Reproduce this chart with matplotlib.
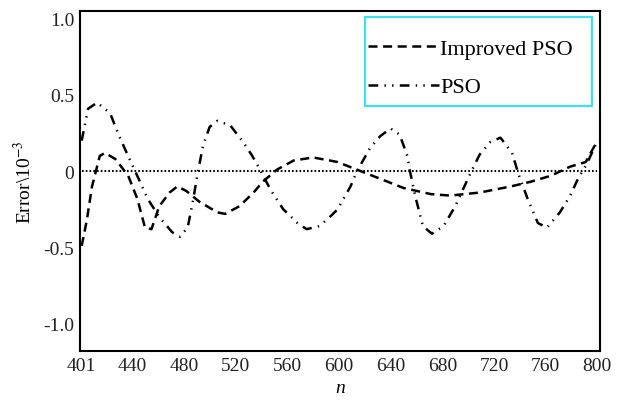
import matplotlib.pyplot as plt
from matplotlib.patches import Rectangle

plt.rcParams['font.family'] = ['Liberation Serif', 'DejaVu Serif']
plt.rcParams['mathtext.fontset'] = 'stix'
plt.rcParams['lines.scale_dashes'] = False

# Improved PSO (dashed)
n_imp = [401, 405, 409, 415, 419, 427, 437, 444, 450, 455, 461, 469, 475, 482, 492,
         506, 512, 523, 534, 541, 552, 565, 580, 593, 599, 614, 632, 650, 671, 686,
         709, 733, 748, 764, 779, 791, 800]
err_imp = [-0.49, -0.32, -0.1, 0.1, 0.12, 0.08, -0.03, -0.18, -0.37, -0.38, -0.23, -0.14,
           -0.1, -0.13, -0.2, -0.27, -0.28, -0.23, -0.14, -0.07, 0.01, 0.07, 0.09, 0.07,
           0.06, 0.01, -0.05, -0.11, -0.15, -0.16, -0.14, -0.1, -0.07, -0.03, 0.03, 0.06, 0.2]

# PSO (dash-dot-dot)
n_pso = [401, 406, 413, 423, 430, 438, 444, 452, 461, 471, 477, 483, 487, 491, 495, 500,
         506, 516, 526, 533, 539, 547, 557, 568, 575, 585, 593, 599, 609, 614, 624, 632,
         640, 647, 653, 655, 659, 665, 672, 681, 690, 696, 702, 709, 717, 725, 734, 739,
         746, 754, 761, 771, 779, 785, 792, 800]
err_pso = [0.2, 0.41, 0.45, 0.38, 0.23, 0.08, -0.03, -0.18, -0.3, -0.4, -0.43, -0.37, -0.2,
           0.0, 0.17, 0.29, 0.33, 0.3, 0.19, 0.1, 0.01, -0.12, -0.25, -0.34, -0.38, -0.36,
           -0.3, -0.25, -0.1, 0.0, 0.15, 0.23, 0.28, 0.24, 0.1, 0.0, -0.16, -0.36, -0.41,
           -0.36, -0.23, -0.12, -0.01, 0.11, 0.19, 0.22, 0.12, -0.02, -0.18, -0.34, -0.37,
           -0.27, -0.16, -0.05, 0.05, 0.2]

xticks = [401, 440, 480, 520, 560, 600, 640, 680, 720, 760, 800]
yticks = [1.0, 0.5, 0, -0.5, -1.0]
ylabels = ["1.0", "0.5", "0", "-0.5", "-1.0"]

fig = plt.figure(figsize=(6.23, 4.02), dpi=100)
ax = fig.add_axes([0.128, 0.124, 0.835, 0.846])

ax.plot([401, 800], [0, 0], color="black", lw=1.5, dashes=(1.2, 1.5))
l1, = ax.plot(n_imp, err_imp, color="black", lw=1.8, dashes=(6.5, 4), label="Improved PSO")
l2, = ax.plot(n_pso, err_pso, color="black", lw=1.8, dashes=(7, 4.5, 1, 4.5, 1, 4.5), label="PSO")

ax.set_xlim(399.5, 802)
ax.set_ylim(-1.18, 1.05)
ax.set_xticks(xticks)
ax.set_yticks(yticks)
ax.set_yticklabels(ylabels)
ax.tick_params(length=0, labelsize=14, colors="#222222", pad=4)
for s in ax.spines.values():
    s.set_linewidth(1.5)

ax.set_xlabel("n", fontsize=14, style="italic", labelpad=4)
ax.set_ylabel("Error\\10$^{-3}$", fontsize=14, labelpad=6)

# legend without frame, cyan box drawn separately
leg = ax.legend(handles=[l1, l2], loc="center left",
                bbox_to_anchor=(366 / 623, 1 - 69 / 402), bbox_transform=fig.transFigure,
                fontsize=16, handlelength=3.2, handletextpad=0.05,
                labelspacing=0.8, borderpad=0.1, borderaxespad=0, frameon=False)
fig.add_artist(Rectangle((365 / 623, 1 - 107 / 402), 227 / 623, 89 / 402,
                         transform=fig.transFigure, fill=False,
                         edgecolor="#33e5f0", linewidth=1.5))

fig.savefig("out.png", dpi=100)
